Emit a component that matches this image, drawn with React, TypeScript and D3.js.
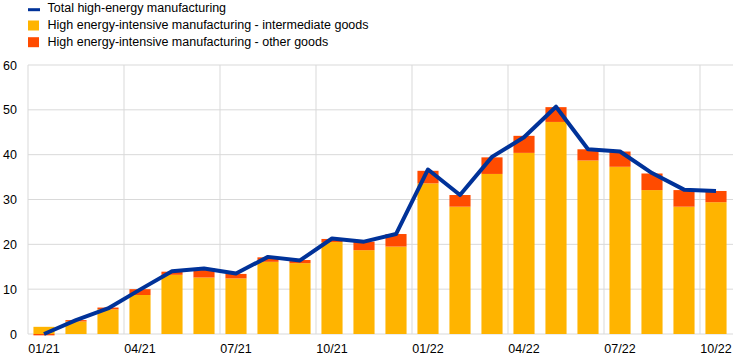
import React from "react";
import * as d3 from "d3";

const categories = ["01/21","02/21","03/21","04/21","05/21","06/21","07/21","08/21","09/21","10/21","11/21","12/21","01/22","02/22","03/22","04/22","05/22","06/22","07/22","08/22","09/22","10/22"];
const tickLabels = ["01/21","04/21","07/21","10/21","01/22","04/22","07/22","10/22"];
const intermediate = [1.6, 2.8, 5.5, 8.7, 13.2, 12.6, 12.4, 16.1, 15.8, 20.5, 18.7, 19.5, 33.6, 28.4, 35.7, 40.4, 47.3, 38.7, 37.3, 32.1, 28.4, 29.4];
const other = [-0.3, 0.3, 0.4, 1.3, 0.7, 2.1, 1.0, 1.0, 0.7, 0.7, 1.9, 2.8, 2.8, 2.6, 3.7, 3.8, 3.3, 2.5, 3.4, 3.7, 3.7, 2.5];
const total = [0, 3.1, 5.7, 9.9, 14.0, 14.6, 13.5, 17.2, 16.4, 21.3, 20.6, 22.3, 36.7, 31.0, 39.5, 43.9, 50.7, 41.2, 40.7, 35.9, 32.2, 31.9];
const yTicks = [0, 10, 20, 30, 40, 50, 60];
const legendLabels = ["Total high-energy manufacturing", "High energy-intensive manufacturing - intermediate goods", "High energy-intensive manufacturing - other goods"];

const W = 744, H = 362;
const left = 28, right = 732, top = 65, bottom = 334;
const BLUE = "#003299", YELLOW = "#FFB400", RED = "#FF4B00", GRID = "#d9d9d9";
const FONT = "Liberation Sans, Arial, sans-serif";

export default function App() {
  const x = d3.scaleBand<string>().domain(categories).range([left, right]).paddingInner(0.34).paddingOuter(0.17);
  const y = d3.scaleLinear().domain([0, 60]).range([bottom, top]);
  const step = x.step();
  const bw = x.bandwidth();
  const gap = (step - bw) / 2;

  const rows = categories.map((c, i) => ({ cat: c, intermediate: intermediate[i], other: other[i] }));
  const stack = d3.stack<any>().keys(["intermediate", "other"]).offset(d3.stackOffsetDiverging);
  const series = stack(rows);
  const colors = [YELLOW, RED];

  const line = d3.line<number>()
    .x((_, i) => (x(categories[i]) as number) + bw / 2)
    .y((d) => y(d));

  const vLines = [left, ...tickLabels.slice(1).map((t) => (x(t) as number) - gap)];

  return (
    <svg width={W} height={H} style={{ position: "absolute", left: 0, top: 0, fontFamily: FONT }}>
      <rect width={W} height={H} fill="#fff" />
      {yTicks.map((t) => (
        <line key={"h" + t} x1={left} x2={right + 1} y1={y(t)} y2={y(t)} stroke={GRID} strokeWidth={1} />
      ))}
      {vLines.map((vx, i) => (
        <line key={"v" + i} x1={vx} x2={vx} y1={top} y2={bottom} stroke={GRID} strokeWidth={1} />
      ))}
      {series.map((s, si) =>
        s.map((d, i) => (
          <rect
            key={si + "-" + i}
            x={x(categories[i])}
            width={bw}
            y={y(Math.max(d[0], d[1]))}
            height={Math.abs(y(d[0]) - y(d[1]))}
            fill={colors[si]}
          />
        ))
      )}
      <path d={line(total) || ""} fill="none" stroke={BLUE} strokeWidth={4} strokeLinejoin="round" />
      {yTicks.map((t) => (
        <text key={"yl" + t} x={17} y={y(t)} dy="0.36em" textAnchor="end" fontSize={12.5} fill="#000">{t}</text>
      ))}
      {tickLabels.map((t) => (
        <text key={"xl" + t} x={(x(t) as number) + bw / 2} y={352.5} textAnchor="middle" fontSize={12.5} fill="#000">{t}</text>
      ))}
      <g>
        <line x1={28} x2={40} y1={9.7} y2={9.7} stroke={BLUE} strokeWidth={3} />
        <rect x={28} y={20.5} width={11} height={10} fill={YELLOW} />
        <rect x={28} y={37.2} width={11} height={10} fill={RED} />
        {legendLabels.map((l, i) => (
          <text key={"lg" + i} x={47.5} y={12.3 + i * 16.8} fontSize={12.5} fill="#000">{l}</text>
        ))}
      </g>
    </svg>
  );
}
